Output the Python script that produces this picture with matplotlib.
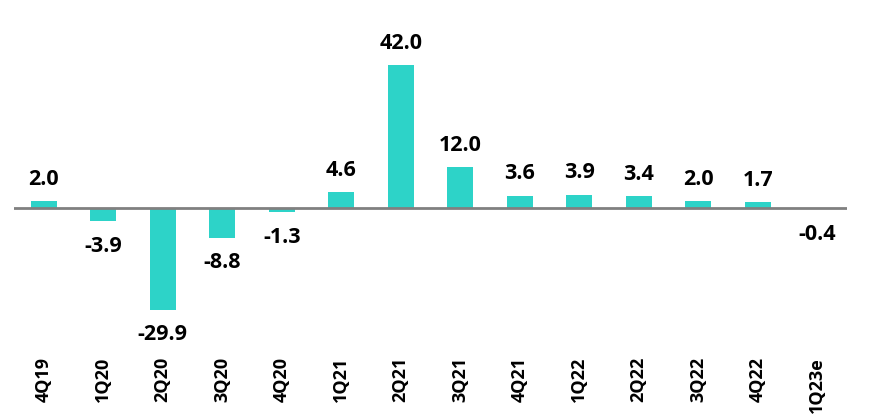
"""
Quarterly growth bar chart.
"""

import matplotlib
matplotlib.use("Agg")
import matplotlib.pyplot as plt

quarters = ["4Q19", "1Q20", "2Q20", "3Q20", "4Q20", "1Q21", "2Q21",
            "3Q21", "4Q21", "1Q22", "2Q22", "3Q22", "4Q22", "1Q23e"]
growth = [2.0, -3.9, -29.9, -8.8, -1.3, 4.6, 42.0,
          12.0, 3.6, 3.9, 3.4, 2.0, 1.7, -0.4]

BAR_COLOR = "#2DD3C8"

plt.rcParams["font.family"] = ["Open Sans", "DejaVu Sans"]

W, H = 869, 416
fig = plt.figure(figsize=(W / 100, H / 100), dpi=100)
# axes placed in pixel terms: left 14, right 847, top 20, bottom 350
ax = fig.add_axes([14 / W, 1 - 350 / H, 833 / W, 330 / H])

xs = range(len(quarters))
ax.bar(xs, growth, width=0.44, color=BAR_COLOR, zorder=2)
ax.axhline(0, color="#808080", linewidth=2, zorder=3)

for x, v in zip(xs, growth):
  off = 22 if v >= 0 else -25   # pixels from bar end to label centre
  ax.annotate(f"{v:.1f}", (x, v), xytext=(0, off * 0.72),
              textcoords="offset points", ha="center", va="center",
              fontsize=15.5, fontweight="bold", color="black")

ax.set_xlim(-0.5, len(quarters) - 0.5)
ax.set_ylim(-41.8, 55.3)
ax.set_xticks(list(xs))
ax.set_xticklabels(quarters, rotation=90, fontsize=13, fontweight="bold")
ax.tick_params(axis="x", length=0, pad=5)
ax.set_yticks([])
for s in ax.spines.values():
  s.set_visible(False)

fig.savefig("out.png", dpi=100)
